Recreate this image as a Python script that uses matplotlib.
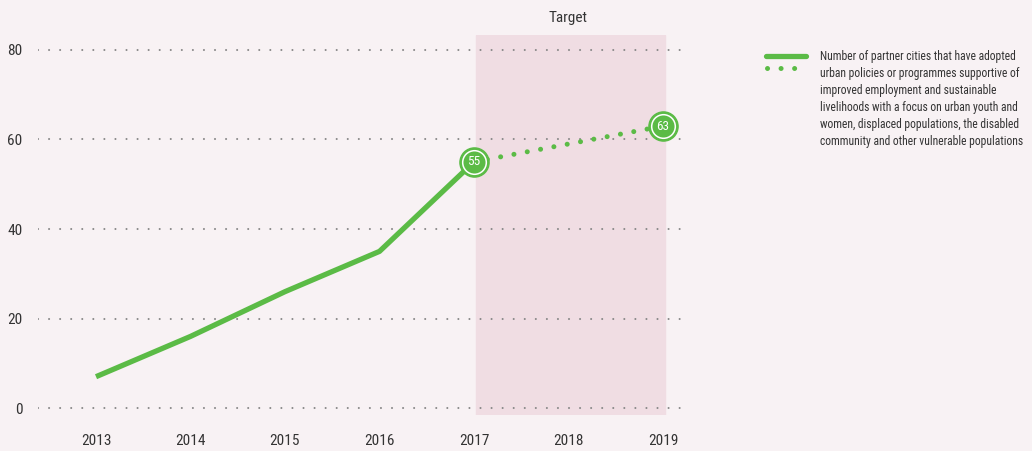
import os
import matplotlib
matplotlib.use("Agg")
import matplotlib.pyplot as plt
from matplotlib import font_manager
from matplotlib.font_manager import FontProperties

# data
years = [2013, 2014, 2015, 2016, 2017]
cities = [7, 16, 26, 35, 55]
target_years = [2017, 2019]
target_vals = [55, 63]
y_ticks = [0, 20, 40, 60, 80]
legend_text = ("Number of partner cities that have adopted\n"
               "urban policies or programmes supportive of\n"
               "improved employment and sustainable\n"
               "livelihoods with a focus on urban youth and\n"
               "women, displaced populations, the disabled\n"
               "community and other vulnerable populations")

# look for a condensed face, else Roboto
wanted = ["RobotoCondensed-Regular", "LiberationSansNarrow-Regular",
          "DejaVuSansCondensed.ttf"]
files = font_manager.findSystemFonts()
path = None
for w in wanted:
    hits = [f for f in files if os.path.basename(f).startswith(w)]
    if hits:
        path = hits[0]
        break
condensed = path is not None
if condensed:
    fp = FontProperties(fname=path)
else:
    fp = FontProperties(family="Roboto")

bg = "#f8f2f4"
green = "#5bbb46"
txt = "#333333"

fig = plt.figure(figsize=(10.32, 4.51), dpi=100, facecolor=bg)
ax = fig.add_axes([38 / 1032, 36 / 451, 650 / 1032, 380 / 451])
ax.set_facecolor(bg)
ax.set_xlim(2012.386, 2019.265)
ax.set_ylim(-1.56, 83.35)

# target band
ax.axvspan(2017.02, 2019.02, color="#f0dde3", zorder=0)
ax.text(2018.0, 1.045, "Target", transform=ax.get_xaxis_transform(),
        ha="center", va="center", fontproperties=fp, fontsize=11, color=txt)

for y in y_ticks:
    ax.plot([2012.386, 2019.3], [y, y], color="#888888", lw=1.5,
            linestyle=(0, (0.01, 5.3)), dash_capstyle="round", zorder=1)

ax.plot(years, cities, color=green, lw=3.8, solid_capstyle="butt", zorder=3)
ax.plot(target_years, target_vals, color=green, lw=3.6,
        linestyle=(0, (0.01, 2.7)), dash_capstyle="round", zorder=3)

for x, v in zip(target_years, target_vals):
    ax.plot(x, v, "o", ms=21, color=green, zorder=4)
    ax.plot(x, v, "o", ms=17, mfc="none", mec="white", mew=1.1, zorder=5)
    ax.text(x, v, str(v), ha="center", va="center", color="white",
            fontproperties=fp, fontsize=9.5, zorder=6)

tick_size = 11 if condensed else 10.5
ax.set_yticks(y_ticks)
ax.set_xticks(range(2013, 2020))
ax.tick_params(length=0, labelcolor=txt)
ax.tick_params(axis="y", pad=11)
ax.tick_params(axis="x", pad=14)
for lab in ax.get_xticklabels() + ax.get_yticklabels():
    lab.set_fontproperties(fp)
    lab.set_fontsize(tick_size)
for s in ax.spines.values():
    s.set_visible(False)

# legend
fig.add_artist(plt.Line2D([766 / 1032, 806 / 1032], [1 - 56 / 451] * 2,
                          color=green, lw=3.8, solid_capstyle="round"))
fig.add_artist(plt.Line2D([767 / 1032, 796 / 1032], [1 - 68 / 451] * 2,
                          color=green, lw=3.6, linestyle=(0, (0.01, 2.7)),
                          dash_capstyle="round"))
fig.text(820 / 1032, 1 - 50 / 451, legend_text, ha="left", va="top",
         fontproperties=fp, fontsize=8.4 if condensed else 6.6, color=txt,
         linespacing=1.39 if condensed else 1.5)

fig.savefig("out.png", dpi=100, facecolor=bg)
